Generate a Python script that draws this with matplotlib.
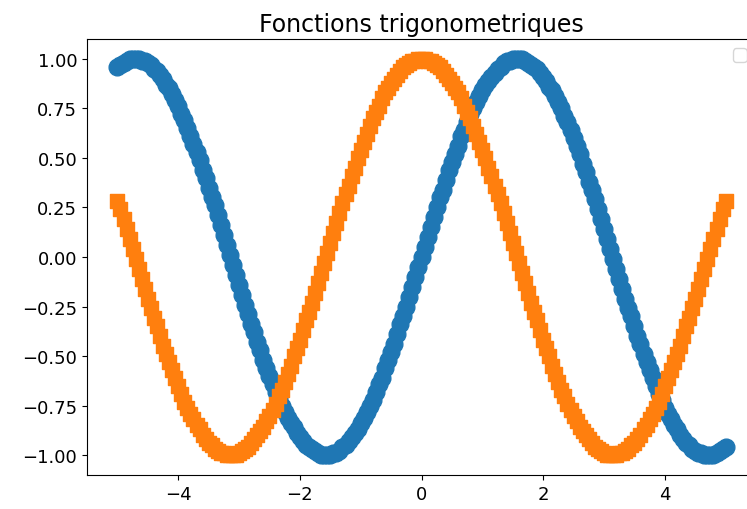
import matplotlib
matplotlib.use("Agg")
import matplotlib.pyplot as plt
import numpy as np

# two interleaved sample grids: -5 .. 5 step 0.1, and the midpoints -4.95 .. 4.95
x = np.arange(-50, 51) / 10
x_mid = np.arange(-99, 100, 2) / 20

sin_vals = [
    0.96, 0.98, 1.00, 1.00, 0.99, 0.98, 0.95, 0.92, 0.87, 0.82,
    0.76, 0.69, 0.61, 0.53, 0.44, 0.35, 0.26, 0.16, 0.06, -0.04,
    -0.14, -0.24, -0.34, -0.43, -0.52, -0.60, -0.68, -0.75, -0.81, -0.86,
    -0.91, -0.95, -0.97, -0.99, -1.00, -1.00, -0.99, -0.96, -0.93, -0.89,
    -0.84, -0.78, -0.72, -0.64, -0.56, -0.48, -0.39, -0.30, -0.20, -0.10,
    0.00,
    0.10, 0.20, 0.30, 0.39, 0.48, 0.56, 0.64, 0.72, 0.78, 0.84,
    0.89, 0.93, 0.96, 0.99, 1.00, 1.00, 0.99, 0.97, 0.95, 0.91,
    0.86, 0.81, 0.75, 0.68, 0.60, 0.52, 0.43, 0.34, 0.24, 0.14,
    0.04, -0.06, -0.16, -0.26, -0.35, -0.44, -0.53, -0.61, -0.69, -0.76,
    -0.82, -0.87, -0.92, -0.95, -0.98, -0.99, -1.00, -1.00, -0.98, -0.96,
]

sin_mid = [
    0.97, 0.99, 1.00, 1.00, 0.99, 0.97, 0.94, 0.90, 0.85, 0.79,
    0.72, 0.65, 0.57, 0.49, 0.40, 0.30, 0.21, 0.11, 0.01, -0.09,
    -0.19, -0.29, -0.38, -0.47, -0.56, -0.64, -0.71, -0.78, -0.84, -0.89,
    -0.93, -0.96, -0.98, -1.00, -1.00, -0.99, -0.98, -0.95, -0.91, -0.87,
    -0.81, -0.75, -0.68, -0.61, -0.52, -0.44, -0.34, -0.25, -0.15, -0.05,
    0.05, 0.15, 0.25, 0.34, 0.44, 0.52, 0.61, 0.68, 0.75, 0.81,
    0.87, 0.91, 0.95, 0.98, 0.99, 1.00, 1.00, 0.98, 0.96, 0.93,
    0.89, 0.84, 0.78, 0.71, 0.64, 0.56, 0.47, 0.38, 0.29, 0.19,
    0.09, -0.01, -0.11, -0.21, -0.30, -0.40, -0.49, -0.57, -0.65, -0.72,
    -0.79, -0.85, -0.90, -0.94, -0.97, -0.99, -1.00, -1.00, -0.99, -0.97,
]

cos_vals = [
    0.28, 0.19, 0.09, -0.01, -0.11, -0.21, -0.31, -0.40, -0.49, -0.57,
    -0.65, -0.73, -0.79, -0.85, -0.90, -0.94, -0.97, -0.99, -1.00, -1.00,
    -0.99, -0.97, -0.94, -0.90, -0.86, -0.80, -0.74, -0.67, -0.59, -0.50,
    -0.42, -0.32, -0.23, -0.13, -0.03, 0.07, 0.17, 0.27, 0.36, 0.45,
    0.54, 0.62, 0.70, 0.76, 0.83, 0.88, 0.92, 0.96, 0.98, 0.99,
    1.00,
    0.99, 0.98, 0.96, 0.92, 0.88, 0.83, 0.76, 0.70, 0.62, 0.54,
    0.45, 0.36, 0.27, 0.17, 0.07, -0.03, -0.13, -0.23, -0.32, -0.42,
    -0.50, -0.59, -0.67, -0.74, -0.80, -0.86, -0.90, -0.94, -0.97, -0.99,
    -1.00, -1.00, -0.99, -0.97, -0.94, -0.90, -0.85, -0.79, -0.73, -0.65,
    -0.57, -0.49, -0.40, -0.31, -0.21, -0.11, -0.01, 0.09, 0.19, 0.28,
]

cos_mid = [
    0.24, 0.14, 0.04, -0.06, -0.16, -0.26, -0.35, -0.45, -0.53, -0.61,
    -0.69, -0.76, -0.82, -0.87, -0.92, -0.95, -0.98, -0.99, -1.00, -1.00,
    -0.98, -0.96, -0.92, -0.88, -0.83, -0.77, -0.70, -0.63, -0.55, -0.46,
    -0.37, -0.28, -0.18, -0.08, 0.02, 0.12, 0.22, 0.32, 0.41, 0.50,
    0.58, 0.66, 0.73, 0.80, 0.85, 0.90, 0.94, 0.97, 0.99, 1.00,
    1.00, 0.99, 0.97, 0.94, 0.90, 0.85, 0.80, 0.73, 0.66, 0.58,
    0.50, 0.41, 0.32, 0.22, 0.12, 0.02, -0.08, -0.18, -0.28, -0.37,
    -0.46, -0.55, -0.63, -0.70, -0.77, -0.83, -0.88, -0.92, -0.96, -0.98,
    -1.00, -1.00, -0.99, -0.98, -0.95, -0.92, -0.87, -0.82, -0.76, -0.69,
    -0.61, -0.53, -0.45, -0.35, -0.26, -0.16, -0.06, 0.04, 0.14, 0.24,
]

BLUE = "#1f77b4"
ORANGE = "#ff7f0e"

plt.rcParams.update({"font.size": 13, "font.family": "DejaVu Sans"})

fig = plt.figure(figsize=(7.47, 5.10), dpi=100)
ax = fig.add_axes([0.1165, 0.0667, 0.8956, 0.855])

sx = np.concatenate([x, x_mid])
ax.scatter(sx, np.concatenate([sin_vals, sin_mid]), s=145, marker="o", color=BLUE)
ax.scatter(sx, np.concatenate([cos_vals, cos_mid]), s=112, marker="s", color=ORANGE)
ax.set_title("Fonctions trigonometriques", fontsize=17)
ax.legend(handles=[], loc="upper right")

fig.savefig("out.png", dpi=100)
